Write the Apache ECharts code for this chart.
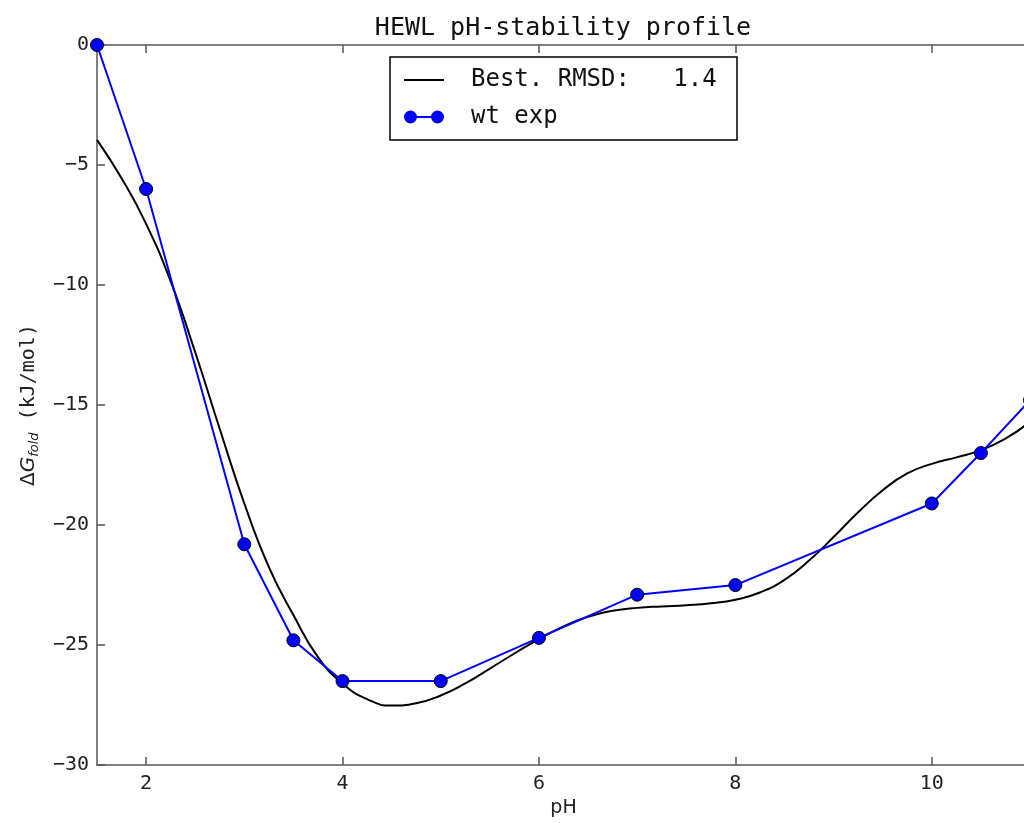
<!DOCTYPE html>
<html>
<head>
<meta charset="utf-8">
<script src="https://cdn.jsdelivr.net/npm/echarts@6/dist/echarts.min.js"></script>
<style>
html,body{margin:0;padding:0;overflow:hidden;background:#fff;}
#chart{width:1040px;height:823px;}
</style>
</head>
<body>
<div id="chart"></div>
<script>
// ---- data ----
const titleText = 'HEWL pH-stability profile';
const fitName = 'Best. RMSD:   1.4';
const expName = 'wt exp';
const xTicks = [2, 4, 6, 8, 10];

const expPH = [1.5, 2, 3, 3.5, 4, 5, 6, 7, 8, 10, 10.5, 11];
const expDG = [0, -6.0, -20.8, -24.8, -26.5, -26.5, -24.7, -22.9, -22.5, -19.1, -17.0, -14.8];

const fitPH = [1.5, 1.75, 2.0, 2.25, 2.5, 2.75, 3.0, 3.25, 3.5, 3.75, 4.0, 4.25, 4.5, 4.75, 5.0, 5.25, 5.5, 5.75, 6.0, 6.25, 6.5, 6.75, 7.0, 7.25, 7.5, 7.75, 8.0, 8.25, 8.5, 8.75, 9.0, 9.25, 9.5, 9.75, 10.0, 10.25, 10.5, 10.75, 11.0];
const fitDG = [-3.95, -5.55, -7.45, -9.85, -12.8, -16.0, -19.1, -21.75, -23.75, -25.5, -26.6, -27.25, -27.52, -27.42, -27.1, -26.6, -25.98, -25.35, -24.75, -24.22, -23.82, -23.57, -23.45, -23.39, -23.34, -23.26, -23.11, -22.81, -22.28, -21.48, -20.5, -19.47, -18.55, -17.85, -17.45, -17.18, -16.88, -16.4, -15.7];

const mono = '"DejaVu Sans Mono", monospace';
const sans = '"DejaVu Sans", sans-serif';
const axisColor = '#555';

const chart = echarts.init(document.getElementById('chart'), null, {renderer: 'canvas'});

const minusFmt = v => String(v).replace('-', '\u2212');

chart.setOption({
  animation: false,
  backgroundColor: '#fff',
  title: {
    text: titleText,
    left: 563,
    textAlign: 'center',
    top: 16,
    padding: 0,
    textStyle: {fontFamily: mono, fontSize: 25, fontWeight: 'normal', color: '#111'}
  },
  grid: {left: 97, top: 45, right: 10, bottom: 54, containLabel: false},
  legend: {
    orient: 'vertical',
    left: 390,
    top: 57,
    padding: [10, 11, 10, 14],
    itemGap: 11,
    itemWidth: 40,
    itemHeight: 13,
    borderColor: '#000',
    borderWidth: 1.5,
    borderRadius: 0,
    backgroundColor: '#fff',
    textStyle: {fontFamily: mono, fontSize: 24, color: '#111', lineHeight: 26, width: 255, padding: [0, 0, 0, 22]},
    data: [
      {name: fitName, icon: 'path://M0,0L40,0L40,2L0,2Z', itemStyle: {color: '#000', borderWidth: 0}},
      {name: expName, icon: 'path://M6.5,0A6.5,6.5,0,1,0,6.5,13A6.5,6.5,0,1,0,6.5,0ZM33.5,0A6.5,6.5,0,1,0,33.5,13A6.5,6.5,0,1,0,33.5,0ZM12.8,5.6L12.8,7.4L27.2,7.4L27.2,5.6Z', itemStyle: {color: '#0000ff', borderWidth: 0}}
    ]
  },
  xAxis: [{
    type: 'value',
    min: 1.5,
    max: 11,
    position: 'bottom',
    name: 'pH',
    nameLocation: 'middle',
    nameGap: 30,
    nameTextStyle: {fontFamily: sans, fontSize: 19, color: '#222'},
    axisLine: {show: true, onZero: false, lineStyle: {color: axisColor, width: 1.5}},
    axisTick: {show: true, inside: true, length: 8, customValues: xTicks, lineStyle: {color: axisColor, width: 1.5}},
    axisLabel: {show: true, customValues: xTicks, margin: 9, fontFamily: mono, fontSize: 20, color: '#222', formatter: minusFmt},
    splitLine: {show: false}
  }, {
    type: 'value',
    min: 1.5,
    max: 11,
    position: 'top',
    axisLine: {show: true, onZero: false, lineStyle: {color: axisColor, width: 1.5}},
    axisTick: {show: true, inside: true, length: 8, customValues: xTicks, lineStyle: {color: axisColor, width: 1.5}},
    axisLabel: {show: false},
    splitLine: {show: false}
  }],
  yAxis: [{
    type: 'value',
    min: -30,
    max: 0,
    interval: 5,
    position: 'left',
    name: '{d|\u0394}{g|G}{s|fold}{n| (kJ/mol)}',
    nameLocation: 'middle',
    nameRotate: 90,
    nameGap: 56,
    nameTextStyle: {
      rich: {
        d: {fontFamily: sans, fontSize: 20, color: '#222', lineHeight: 24, verticalAlign: 'middle'},
        g: {fontFamily: sans, fontStyle: 'italic', fontSize: 20, color: '#222', lineHeight: 24, verticalAlign: 'middle'},
        s: {fontFamily: sans, fontStyle: 'italic', fontSize: 13, color: '#222', lineHeight: 12, verticalAlign: 'bottom'},
        n: {fontFamily: mono, fontSize: 20, color: '#222', lineHeight: 24, verticalAlign: 'middle'}
      }
    },
    axisLine: {show: true, onZero: false, lineStyle: {color: axisColor, width: 1.5}},
    axisTick: {show: true, inside: true, length: 8, lineStyle: {color: axisColor, width: 1.5}},
    axisLabel: {show: true, margin: 8, fontFamily: mono, fontSize: 20, color: '#222', formatter: minusFmt},
    splitLine: {show: false}
  }],
  series: [{
    name: fitName,
    type: 'line',
    xAxisIndex: 0,
    data: fitPH.map((x, i) => [x, fitDG[i]]),
    smooth: 0.5,
    symbol: 'none',
    lineStyle: {color: '#000', width: 2},
    itemStyle: {color: '#000'},
    clip: true,
    z: 2
  }, {
    name: expName,
    type: 'line',
    xAxisIndex: 0,
    data: expPH.map((x, i) => [x, expDG[i]]),
    symbol: 'circle',
    symbolSize: 13,
    showAllSymbol: true,
    lineStyle: {color: '#0000ff', width: 2},
    itemStyle: {color: '#0000ff', borderColor: '#000', borderWidth: 1},
    clip: true,
    z: 3
  }]
});
</script>
</body>
</html>
